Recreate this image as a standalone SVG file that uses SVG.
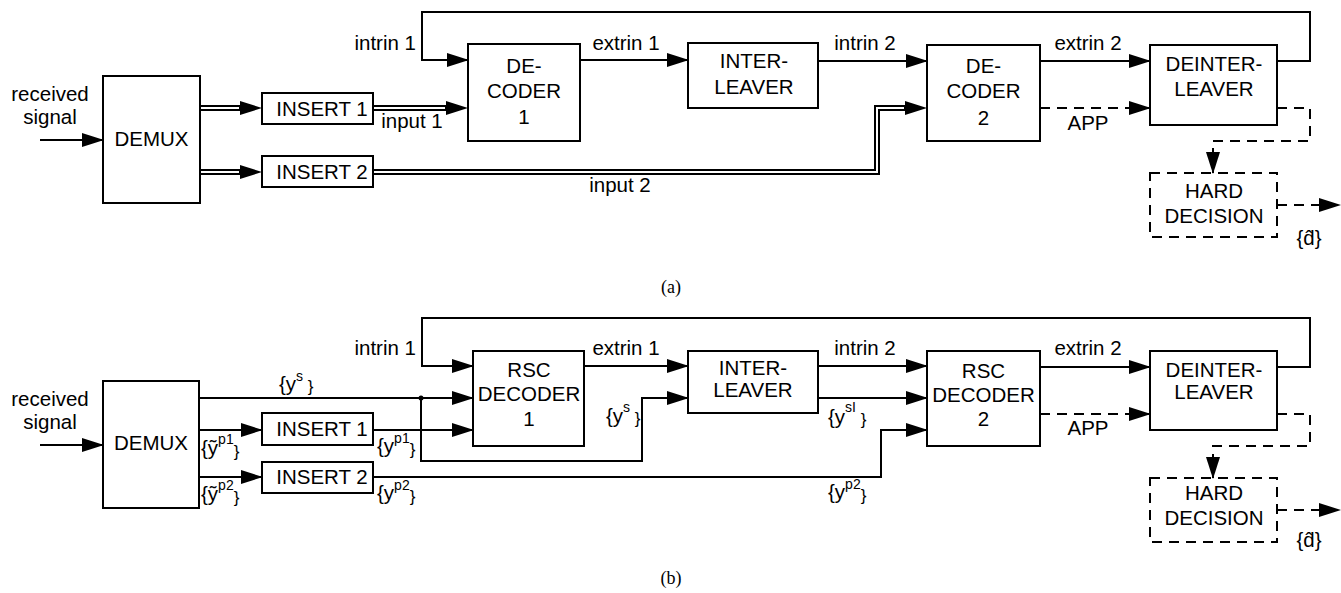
<svg xmlns="http://www.w3.org/2000/svg" width="1341" height="593" viewBox="0 0 1341 593">
<style>
.box{fill:#fff;stroke:#000;stroke-width:2}
.dbox{fill:none;stroke:#000;stroke-width:2;stroke-dasharray:10 7}
.ln{fill:none;stroke:#000;stroke-width:2}
.dash{fill:none;stroke:#000;stroke-width:2;stroke-dasharray:10 7}
.dbo{fill:none;stroke:#000;stroke-width:6}
.dbi{fill:none;stroke:#fff;stroke-width:2}
text{font-family:"Liberation Sans",Arial,sans-serif;font-size:20.5px;fill:#000}
.c{text-anchor:middle}
.e{text-anchor:end}
.sup{font-size:14px}
.cb{font-size:17px}
.cap{font-family:"Liberation Serif","Times New Roman",serif;font-size:18px}
</style>
<defs>
<marker id="ah" markerUnits="userSpaceOnUse" markerWidth="22" markerHeight="16" viewBox="0 0 22 16" refX="21" refY="8" orient="auto"><path d="M0,1 L22,8 L0,15 Z" fill="#000"/></marker>
<marker id="ahd" markerUnits="userSpaceOnUse" markerWidth="22" markerHeight="16" viewBox="0 0 22 16" refX="8" refY="8" orient="auto"><path d="M0,1 L22,8 L0,15 Z" fill="#000"/></marker>
</defs>

<g id="connectors">
<!-- part (a) -->
<path class="ln" d="M40,140 H103" marker-end="url(#ah)"/>
<path class="ln" d="M1277,61 H1310 V12 H422 V60 H468" marker-end="url(#ah)"/>
<path class="ln" d="M580,60 H688" marker-end="url(#ah)"/>
<path class="ln" d="M818,61 H927" marker-end="url(#ah)"/>
<path class="ln" d="M1040,61 H1150" marker-end="url(#ah)"/>
<path class="dbo" d="M200,108 H248" marker-end="url(#ahd)"/>
<path class="dbi" d="M201,108 H239"/>
<path class="dbo" d="M373,108 H454" marker-end="url(#ahd)"/>
<path class="dbi" d="M374,108 H445"/>
<path class="dbo" d="M200,172 H248" marker-end="url(#ahd)"/>
<path class="dbi" d="M201,172 H239"/>
<path class="dbo" d="M373,172 H877 V108 H913" marker-end="url(#ahd)"/>
<path class="dbi" d="M374,172 H877 V108 H904"/>
<path class="dash" d="M1040,108 H1150" marker-end="url(#ah)"/>
<path class="dash" d="M1277,108 H1310 V141 H1213 V173" marker-end="url(#ah)"/>
<path class="dash" d="M1277,205 H1340" marker-end="url(#ah)"/>
<!-- part (b) -->
<path class="ln" d="M40,445 H103" marker-end="url(#ah)"/>
<path class="ln" d="M1277,367 H1310 V318 H422 V366 H473" marker-end="url(#ah)"/>
<path class="ln" d="M584,366 H688" marker-end="url(#ah)"/>
<path class="ln" d="M818,366 H927" marker-end="url(#ah)"/>
<path class="ln" d="M1040,367 H1150" marker-end="url(#ah)"/>
<path class="ln" d="M199,398 H473" marker-end="url(#ah)"/>
<path class="ln" d="M421,398 V461 H642 V398 H688" marker-end="url(#ah)"/>
<circle cx="421" cy="398" r="2.5" fill="#000"/>
<path class="ln" d="M199,430 H262" marker-end="url(#ah)"/>
<path class="ln" d="M199,477 H262" marker-end="url(#ah)"/>
<path class="ln" d="M373,430 H473" marker-end="url(#ah)"/>
<path class="ln" d="M373,477 H881 V430 H927" marker-end="url(#ah)"/>
<path class="ln" d="M818,398 H927" marker-end="url(#ah)"/>
<path class="dash" d="M1040,414 H1150" marker-end="url(#ah)"/>
<path class="dash" d="M1277,414 H1310 V446 H1213 V478" marker-end="url(#ah)"/>
<path class="dash" d="M1277,510 H1340" marker-end="url(#ah)"/>

<!-- labels (a) -->
<text x="50" y="101" class="c">received</text>
<text x="50" y="124" class="c">signal</text>
<text x="416" y="50" class="e">intrin 1</text>
<text x="626" y="50" class="c">extrin 1</text>
<text x="865" y="50" class="c">intrin 2</text>
<text x="1088" y="50" class="c">extrin 2</text>
<text x="1088" y="130" class="c">APP</text>
<text x="412" y="128" class="c">input 1</text>
<text x="620" y="192" class="c">input 2</text>
<text x="1309" y="245" class="c">{d̂}</text>
<!-- labels (b) -->
<text x="50" y="406" class="c">received</text>
<text x="50" y="429" class="c">signal</text>
<text x="416" y="355" class="e">intrin 1</text>
<text x="626" y="355" class="c">extrin 1</text>
<text x="865" y="355" class="c">intrin 2</text>
<text x="1088" y="355" class="c">extrin 2</text>
<text x="1088" y="435" class="c">APP</text>
<text x="1309" y="547" class="c">{d̂}</text>
<text x="279" y="391">{y<tspan class="sup" dy="-10">s</tspan><tspan class="cb" dy="11"> }</tspan></text>
<text x="201" y="455">{ỹ<tspan class="sup" dy="-11">p1</tspan><tspan class="cb" dy="13">}</tspan></text>
<text x="201" y="501">{ỹ<tspan class="sup" dy="-11">p2</tspan><tspan class="cb" dy="13">}</tspan></text>
<text x="377" y="453">{y<tspan class="sup" dy="-10">p1</tspan><tspan class="cb" dy="12">}</tspan></text>
<text x="377" y="500">{y<tspan class="sup" dy="-10">p2</tspan><tspan class="cb" dy="12">}</tspan></text>
<text x="606" y="423">{y<tspan class="sup" dy="-11">s</tspan><tspan class="cb" dy="12"> }</tspan></text>
<text x="828" y="424">{y<tspan class="sup" dy="-12">sI</tspan><tspan class="cb" dy="13"> }</tspan></text>
<text x="828" y="499">{y<tspan class="sup" dy="-10">p2</tspan><tspan class="cb" dy="12">}</tspan></text>
</g>

<!-- nodes (a) -->
<g id="demux-a"><rect class="box" x="103" y="76" width="97" height="127"/><text x="151.5" y="146" class="c">DEMUX</text></g>
<g id="insert1-a"><rect class="box" x="262" y="93" width="111" height="31"/><text x="322" y="116" class="c">INSERT 1</text></g>
<g id="insert2-a"><rect class="box" x="262" y="156" width="111" height="31"/><text x="322" y="179" class="c">INSERT 2</text></g>
<g id="decoder1-a"><rect class="box" x="468" y="44" width="112" height="97"/><text x="524" y="73" class="c">DE-</text><text x="524" y="98" class="c">CODER</text><text x="524" y="124" class="c">1</text></g>
<g id="interleaver-a"><rect class="box" x="688" y="43" width="130" height="65"/><text x="754" y="68" class="c">INTER-</text><text x="754" y="94" class="c">LEAVER</text></g>
<g id="decoder2-a"><rect class="box" x="927" y="45" width="113" height="96"/><text x="983.5" y="73" class="c">DE-</text><text x="983.5" y="98" class="c">CODER</text><text x="983.5" y="125" class="c">2</text></g>
<g id="deinterleaver-a"><rect class="box" x="1150" y="45" width="127" height="80"/><text x="1214" y="71" class="c">DEINTER-</text><text x="1214" y="96" class="c">LEAVER</text></g>
<g id="hard-a"><rect class="dbox" x="1150" y="173" width="127" height="64"/><text x="1214" y="198" class="c">HARD</text><text x="1214" y="223" class="c">DECISION</text></g>

<!-- nodes (b) -->
<g id="demux-b"><rect class="box" x="103" y="381" width="96" height="127"/><text x="151" y="450" class="c">DEMUX</text></g>
<g id="insert1-b"><rect class="box" x="262" y="413" width="111" height="32"/><text x="322" y="436" class="c">INSERT 1</text></g>
<g id="insert2-b"><rect class="box" x="262" y="462" width="111" height="31"/><text x="322" y="484" class="c">INSERT 2</text></g>
<g id="decoder1-b"><rect class="box" x="473" y="351" width="111" height="95"/><text x="529" y="377" class="c">RSC</text><text x="529" y="401" class="c">DECODER</text><text x="529" y="426" class="c">1</text></g>
<g id="interleaver-b"><rect class="box" x="688" y="351" width="130" height="62"/><text x="753" y="375" class="c">INTER-</text><text x="753" y="397" class="c">LEAVER</text></g>
<g id="decoder2-b"><rect class="box" x="927" y="351" width="113" height="95"/><text x="983.5" y="378" class="c">RSC</text><text x="983.5" y="402" class="c">DECODER</text><text x="983.5" y="426" class="c">2</text></g>
<g id="deinterleaver-b"><rect class="box" x="1150" y="351" width="127" height="79"/><text x="1214" y="377" class="c">DEINTER-</text><text x="1214" y="399" class="c">LEAVER</text></g>
<g id="hard-b"><rect class="dbox" x="1150" y="478" width="127" height="64"/><text x="1214" y="500" class="c">HARD</text><text x="1214" y="525" class="c">DECISION</text></g>

<text x="671" y="293" class="c cap">(a)</text>
<text x="671" y="584" class="c cap">(b)</text>
</svg>
